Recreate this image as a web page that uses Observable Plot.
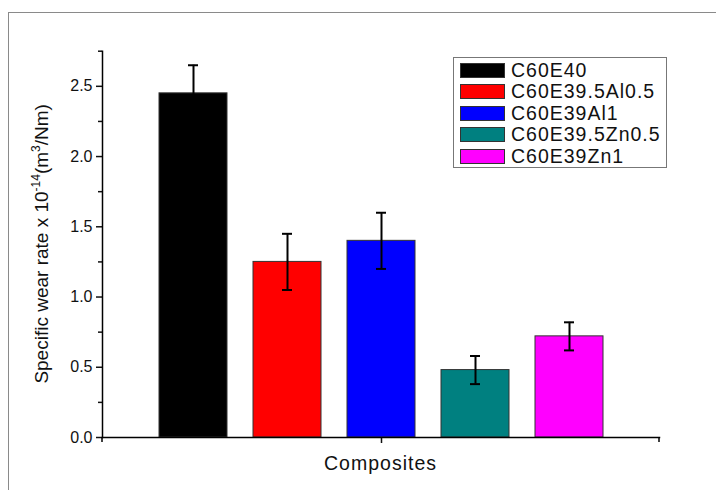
<!DOCTYPE html>
<html><head><meta charset="utf-8">
<script src="https://cdn.jsdelivr.net/npm/d3@7"></script>
<script src="https://cdn.jsdelivr.net/npm/@observablehq/plot@0.6"></script>
<style>
body{margin:0;background:#fff;overflow:hidden;font-family:"Liberation Sans",Arial,sans-serif;}
#wrap{position:relative;width:716px;height:490px;overflow:hidden;}
#frame{position:absolute;left:8px;top:12px;width:800px;height:600px;border:1.5px solid #8a8a8a;box-sizing:border-box;}
#chart{position:absolute;left:0;top:0;}
#legend{position:absolute;left:453px;top:57px;width:214px;height:111px;border:1px solid #777;background:#fff;box-sizing:border-box;}
.row{position:absolute;left:6px;height:20px;display:flex;align-items:center;}
.sw{width:45px;height:15px;border:1px solid #333;box-sizing:border-box;margin-right:6px;}
.lab{font-size:19.5px;letter-spacing:1px;color:#111;white-space:nowrap;}
</style></head><body>
<div id="wrap"><div id="frame"></div><div id="chart"></div><div id="legend"></div></div>
<script>
const categories = ["C60E40", "C60E39.5Al0.5", "C60E39Al1", "C60E39.5Zn0.5", "C60E39Zn1"];
const values = [2.45, 1.25, 1.40, 0.48, 0.72];
const errors = [0.20, 0.20, 0.20, 0.10, 0.10];
const colors = ["#000000", "#ff0000", "#0000ff", "#008080", "#ff00ff"];
const yMajorTicks = [0, 0.5, 1.0, 1.5, 2.0, 2.5];
const yMinorTicks = [0.25, 0.75, 1.25, 1.75, 2.25, 2.75];
const xLabel = "Composites";
const yLabelParts = ["Specific wear rate x 10", "-14", "(m", "3", "/Nm)"];

const data = categories.map((c, i) => ({c, v: values[i], e: errors[i]}));

const plot = Plot.plot({
  width: 716, height: 490,
  marginLeft: 102, marginRight: 57, marginTop: 50.7, marginBottom: 53,
  style: {fontFamily: "'Liberation Sans', Arial, sans-serif", background: "transparent", color: "#111"},
  x: {domain: categories, paddingInner: 0.28, paddingOuter: 0.587},
  y: {domain: [0, 2.75]},
  color: {domain: categories, range: colors},
  marks: [
    Plot.barY(data, {x: "c", y: "v", fill: "c", stroke: "#333", strokeWidth: 1}),
    Plot.ruleX(data, {x: "c", y1: d => d.v - d.e, y2: d => d.v + d.e, stroke: "#000", strokeWidth: 2}),
    Plot.tickY(data, {x: "c", y: d => d.v + d.e, inset: 29, stroke: "#000", strokeWidth: 2}),
    Plot.tickY(data, {x: "c", y: d => d.v - d.e, inset: 29, stroke: "#000", strokeWidth: 2}),
    Plot.axisY({ticks: yMajorTicks, tickSize: 6, tickPadding: 4, tickFormat: d => d.toFixed(1), fontSize: 16, label: null, strokeWidth: 1.5}),
    Plot.axisY({ticks: yMinorTicks, tickSize: 4, tickFormat: () => "", label: null, strokeWidth: 1.5}),
    Plot.axisX({ticks: [categories[2]], tickSize: 6, tickFormat: () => "", label: null, strokeWidth: 1.5}),
    Plot.frame({anchor: "left", stroke: "#000", strokeWidth: 1.5}),
    Plot.frame({anchor: "bottom", stroke: "#000", strokeWidth: 1.5})
  ]
});
document.getElementById("chart").appendChild(plot);

const svg = d3.select(plot);
const yr = plot.scale("y").range;
const xr = plot.scale("x").range;
const yBottom = Math.max(...yr), yTop = Math.min(...yr);
// end ticks on x axis
[xr[0], xr[1]].forEach(x => {
  svg.append("line").attr("x1", x).attr("x2", x).attr("y1", yBottom).attr("y2", yBottom + 5)
    .attr("stroke", "#000").attr("stroke-width", 1.5);
});
// y title with superscripts
const t = svg.append("text")
  .attr("transform", `translate(48,${(yBottom + yTop) / 2}) rotate(-90)`)
  .attr("text-anchor", "middle")
  .attr("font-size", 19)
  .attr("fill", "#111");
t.append("tspan").text(yLabelParts[0]);
t.append("tspan").attr("dy", -8).attr("font-size", 12).text(yLabelParts[1]);
t.append("tspan").attr("dy", 8).text(yLabelParts[2]);
t.append("tspan").attr("dy", -8).attr("font-size", 12).text(yLabelParts[3]);
t.append("tspan").attr("dy", 8).text(yLabelParts[4]);
// x title
svg.append("text")
  .attr("x", (xr[0] + xr[1]) / 2).attr("y", yBottom + 33)
  .attr("text-anchor", "middle").attr("font-size", 19.5).attr("letter-spacing", 1)
  .attr("fill", "#111").text(xLabel);

// legend
const lg = document.getElementById("legend");
categories.forEach((c, i) => {
  const row = document.createElement("div");
  row.className = "row";
  row.style.top = (2 + i * 21.5) + "px";
  const sw = document.createElement("div");
  sw.className = "sw"; sw.style.background = colors[i];
  const lab = document.createElement("span");
  lab.className = "lab"; lab.textContent = c;
  row.appendChild(sw); row.appendChild(lab);
  lg.appendChild(row);
});
</script>
</body></html>
